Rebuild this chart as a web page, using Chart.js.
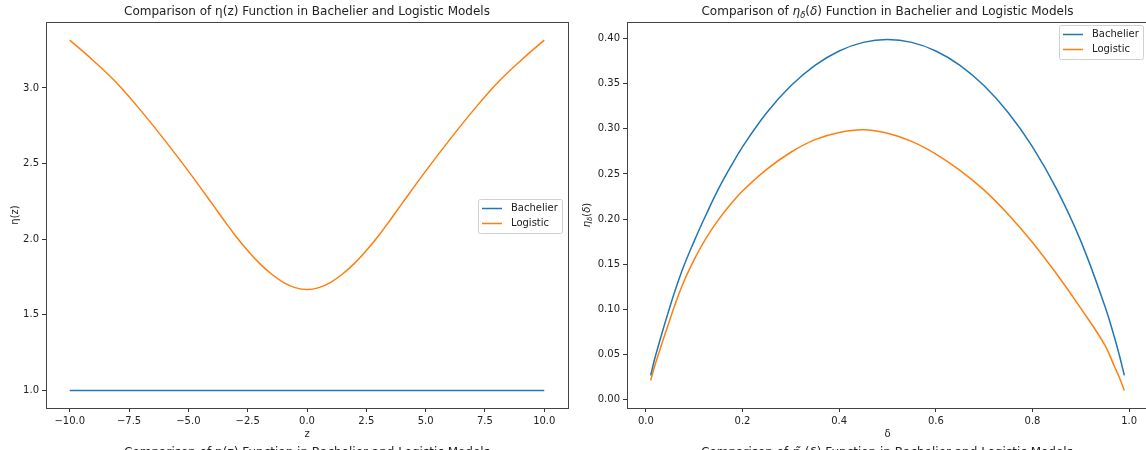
<!DOCTYPE html>
<html>
<head>
<meta charset="utf-8">
<script src="https://cdn.jsdelivr.net/npm/chart.js@4.4.1/dist/chart.umd.min.js"></script>
<style>
html, body { margin: 0; padding: 0; background: #fff; overflow: hidden; }
#wrap { position: relative; width: 1146px; height: 450px; overflow: hidden; }
canvas { position: absolute; top: 0; }
.cut { position: absolute; top: 445px; font: 12px 'DejaVu Sans', sans-serif; color: #222; white-space: nowrap; transform: translateX(-50%); }
</style>
</head>
<body>
<div id="wrap">
  <canvas id="zChart" style="left:0" width="580" height="450"></canvas>
  <canvas id="deltaChart" style="left:580px" width="600" height="450"></canvas>
  <div class="cut" style="left:307px">Comparison of η(z) Function in Bachelier and Logistic Models</div>
  <div class="cut" style="left:887px">Comparison of <i>η̃<sub style="font-size:8px">δ</sub></i>(<i>δ</i>) Function in Bachelier and Logistic Models</div>
</div>
<script>
// left panel: eta(z)
const zValues = [-10, -9, -8, -7, -6, -5, -4, -3.5, -3, -2.5, -2, -1.5, -1, -0.5, 0,
                 0.5, 1, 1.5, 2, 2.5, 3, 3.5, 4, 5, 6, 7, 8, 9, 10];
const etaBachelier = [1, 1, 1, 1, 1, 1, 1, 1, 1, 1, 1, 1, 1, 1, 1,
                      1, 1, 1, 1, 1, 1, 1, 1, 1, 1, 1, 1, 1, 1];
const etaLogistic = [3.316, 3.18, 3.03, 2.85, 2.655, 2.45, 2.235, 2.125, 2.02, 1.925, 1.84, 1.77, 1.715, 1.68, 1.667,
                     1.68, 1.715, 1.77, 1.84, 1.925, 2.02, 2.125, 2.235, 2.45, 2.655, 2.85, 3.03, 3.18, 3.316];
const zTicks = [-10, -7.5, -5, -2.5, 0, 2.5, 5, 7.5, 10];
const etaTicks = [1.0, 1.5, 2.0, 2.5, 3.0];

// right panel: eta_delta(delta)
const deltaValues = [0.01, 0.02, 0.05, 0.075, 0.10, 0.125, 0.15, 0.175, 0.20, 0.25, 0.30, 0.35, 0.40, 0.45, 0.50,
                     0.55, 0.60, 0.65, 0.70, 0.75, 0.80, 0.85, 0.90, 0.95, 0.97, 0.98, 0.99];
const deltaBachelier = [0.0267, 0.0484, 0.1031, 0.1428, 0.1755, 0.2053, 0.2331, 0.2575, 0.2800, 0.3178, 0.3477, 0.3704, 0.3863, 0.3958, 0.3989,
                        0.3958, 0.3863, 0.3704, 0.3477, 0.3178, 0.2800, 0.2331, 0.1755, 0.1031, 0.0681, 0.0484, 0.0267];
const deltaLogistic = [0.021, 0.040, 0.089, 0.126, 0.155, 0.179, 0.199, 0.216, 0.231, 0.255, 0.274, 0.288, 0.296, 0.299, 0.295,
                       0.286, 0.272, 0.254, 0.232, 0.205, 0.174, 0.139, 0.101, 0.060, 0.036, 0.024, 0.010];
const deltaTicks = [0, 0.2, 0.4, 0.6, 0.8, 1.0];
const etaDeltaTicks = [0, 0.05, 0.10, 0.15, 0.20, 0.25, 0.30, 0.35, 0.40];

const seriesNames = ['Bachelier', 'Logistic'];
const BLUE = '#1f77b4';
const ORANGE = '#ff7f0e';
const FONT = "'DejaVu Sans', sans-serif";

function fontOf(p, size) {
    const s = p.sub ? size * 0.7 : size;
    return (p.it ? 'italic ' : '') + s + 'px ' + FONT;
}

function drawRich(ctx, parts, cx, cy, size, angle) {
    ctx.save();
    ctx.translate(cx, cy);
    if (angle) ctx.rotate(angle);
    ctx.textBaseline = 'middle';
    ctx.textAlign = 'left';
    ctx.fillStyle = '#222';
    let w = 0;
    parts.forEach(p => { ctx.font = fontOf(p, size); w += ctx.measureText(p.t).width; });
    let x = -w / 2;
    parts.forEach(p => {
        ctx.font = fontOf(p, size);
        ctx.fillText(p.t, x, p.sub ? size * 0.3 : 0);
        x += ctx.measureText(p.t).width;
    });
    ctx.restore();
}

// frame, titles, axis labels and legend drawn the matplotlib way
const decor = {
    id: 'decor',
    afterDraw(chart, args, opts) {
        const ctx = chart.ctx;
        const a = chart.chartArea;
        const cx = (a.left + a.right) / 2;
        ctx.save();
        ctx.strokeStyle = '#444';
        ctx.lineWidth = 1;
        ctx.strokeRect(Math.round(a.left) + 0.5, Math.round(a.top) + 0.5,
                       Math.round(a.right - a.left), Math.round(a.bottom - a.top));
        ctx.restore();

        drawRich(ctx, opts.title, cx, 12, 12);
        drawRich(ctx, opts.xLabel, cx, 434, 10);
        drawRich(ctx, opts.yLabel, opts.yLabelX, (a.top + a.bottom) / 2, 10, -Math.PI / 2);

        // legend box
        const lg = opts.legend;
        ctx.save();
        ctx.fillStyle = 'rgba(255,255,255,0.8)';
        ctx.strokeStyle = '#d0d0d0';
        ctx.lineWidth = 1;
        ctx.beginPath();
        ctx.roundRect(lg.x + 0.5, lg.y + 0.5, 84, 34, 2);
        ctx.fill();
        ctx.stroke();
        chart.data.datasets.forEach((ds, i) => {
            const y = lg.y + 9.5 + i * 15;
            ctx.strokeStyle = ds.borderColor;
            ctx.lineWidth = 1.5;
            ctx.beginPath();
            ctx.moveTo(lg.x + 4, y);
            ctx.lineTo(lg.x + 24, y);
            ctx.stroke();
            ctx.fillStyle = '#222';
            ctx.font = '10px ' + FONT;
            ctx.textBaseline = 'middle';
            ctx.fillText(ds.label, lg.x + 33, y);
        });
        ctx.restore();
    }
};

function fmt(v, digits) {
    const s = Math.abs(v).toFixed(digits);
    return v < -1e-9 ? '\u2212' + s : s;
}

function axis(min, max, tickValues, digits, fitKey, fitSize) {
    return {
        type: 'linear',
        min: min,
        max: max,
        border: { display: false },
        grid: { drawOnChartArea: false, drawTicks: true, tickLength: 4, color: '#333', lineWidth: 1 },
        ticks: {
            autoSkip: false,
            padding: 3,
            color: '#222',
            font: { family: FONT, size: 10 },
            callback: v => fmt(v, digits)
        },
        afterBuildTicks: scale => { scale.ticks = tickValues.map(v => ({ value: v })); },
        afterFit: scale => { scale[fitKey] = fitSize; }
    };
}

function makeChart(id, xs, seriesList, xAxis, yAxis, padRight, deco) {
    const ctx = document.getElementById(id).getContext('2d');
    return new Chart(ctx, {
        type: 'line',
        data: {
            datasets: seriesList.map((ys, i) => ({
                label: seriesNames[i],
                data: xs.map((x, j) => ({ x: x, y: ys[j] })),
                borderColor: i === 0 ? BLUE : ORANGE,
                backgroundColor: i === 0 ? BLUE : ORANGE,
                borderWidth: 1.5,
                pointRadius: 0,
                tension: 0.4,
                fill: false
            }))
        },
        options: {
            responsive: false,
            animation: false,
            layout: { padding: { top: 22, right: padRight, bottom: 0, left: 0 } },
            scales: { x: xAxis, y: yAxis },
            plugins: {
                legend: { display: false },
                tooltip: { enabled: false },
                decor: deco
            }
        },
        plugins: [decor]
    });
}

makeChart('zChart', zValues, [etaBachelier, etaLogistic],
    axis(-11, 11, zTicks, 1, 'height', 42),
    axis(0.884, 3.436, etaTicks, 1, 'width', 46),
    12,
    {
        title: [{ t: 'Comparison of η(z) Function in Bachelier and Logistic Models' }],
        xLabel: [{ t: 'z' }],
        yLabel: [{ t: 'η(z)' }],
        yLabelX: 15,
        legend: { x: 478, y: 199 }
    });

makeChart('deltaChart', deltaValues, [deltaBachelier, deltaLogistic],
    axis(-0.039, 1.039, deltaTicks, 1, 'height', 42),
    axis(-0.0095, 0.4184, etaDeltaTicks, 2, 'width', 47),
    32,
    {
        title: [{ t: 'Comparison of ' }, { t: 'η', it: true }, { t: 'δ', it: true, sub: true },
                { t: '(' }, { t: 'δ', it: true }, { t: ')' }, { t: ' Function in Bachelier and Logistic Models' }],
        xLabel: [{ t: 'δ' }],
        yLabel: [{ t: 'η', it: true }, { t: 'δ', it: true, sub: true }, { t: '(' }, { t: 'δ', it: true }, { t: ')' }],
        yLabelX: 7,
        legend: { x: 479, y: 25 }
    });
</script>
</body>
</html>
